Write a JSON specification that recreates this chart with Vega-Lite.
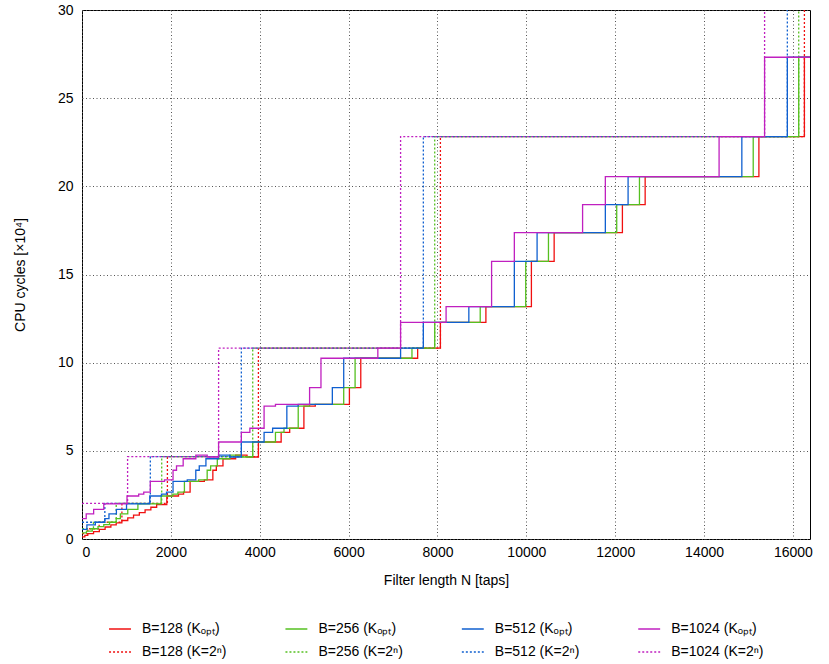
{
  "$schema": "https://vega.github.io/schema/vega-lite/v6.json",
  "width": 728,
  "height": 529,
  "autosize": {"type": "none"},
  "padding": {"left": 82, "top": 10, "right": 19, "bottom": 125},
  "background": "white",
  "data": {"values": [
    {"series": "B=128 (Kₒₚₜ)", "N": 1, "cycles": 0.12},
    {"series": "B=128 (Kₒₚₜ)", "N": 64, "cycles": 0.2},
    {"series": "B=128 (Kₒₚₜ)", "N": 130, "cycles": 0.3},
    {"series": "B=128 (Kₒₚₜ)", "N": 260, "cycles": 0.42},
    {"series": "B=128 (Kₒₚₜ)", "N": 390, "cycles": 0.55},
    {"series": "B=128 (Kₒₚₜ)", "N": 520, "cycles": 0.68},
    {"series": "B=128 (Kₒₚₜ)", "N": 650, "cycles": 0.8},
    {"series": "B=128 (Kₒₚₜ)", "N": 770, "cycles": 0.92},
    {"series": "B=128 (Kₒₚₜ)", "N": 897, "cycles": 1.05},
    {"series": "B=128 (Kₒₚₜ)", "N": 1030, "cycles": 1.2},
    {"series": "B=128 (Kₒₚₜ)", "N": 1160, "cycles": 1.35},
    {"series": "B=128 (Kₒₚₜ)", "N": 1290, "cycles": 1.5},
    {"series": "B=128 (Kₒₚₜ)", "N": 1420, "cycles": 1.65},
    {"series": "B=128 (Kₒₚₜ)", "N": 1550, "cycles": 1.8},
    {"series": "B=128 (Kₒₚₜ)", "N": 1680, "cycles": 1.95},
    {"series": "B=128 (Kₒₚₜ)", "N": 1909, "cycles": 2.44},
    {"series": "B=128 (Kₒₚₜ)", "N": 2172, "cycles": 2.55},
    {"series": "B=128 (Kₒₚₜ)", "N": 2286, "cycles": 2.66},
    {"series": "B=128 (Kₒₚₜ)", "N": 2433, "cycles": 3.27},
    {"series": "B=128 (Kₒₚₜ)", "N": 2753, "cycles": 3.35},
    {"series": "B=128 (Kₒₚₜ)", "N": 2945, "cycles": 3.9},
    {"series": "B=128 (Kₒₚₜ)", "N": 3023, "cycles": 4.15},
    {"series": "B=128 (Kₒₚₜ)", "N": 3173, "cycles": 4.55},
    {"series": "B=128 (Kₒₚₜ)", "N": 3458, "cycles": 4.76},
    {"series": "B=128 (Kₒₚₜ)", "N": 3714, "cycles": 4.65},
    {"series": "B=128 (Kₒₚₜ)", "N": 3970, "cycles": 5.5},
    {"series": "B=128 (Kₒₚₜ)", "N": 4482, "cycles": 6.05},
    {"series": "B=128 (Kₒₚₜ)", "N": 4674, "cycles": 6.28},
    {"series": "B=128 (Kₒₚₜ)", "N": 4994, "cycles": 7.54},
    {"series": "B=128 (Kₒₚₜ)", "N": 5250, "cycles": 7.64},
    {"series": "B=128 (Kₒₚₜ)", "N": 6018, "cycles": 8.58},
    {"series": "B=128 (Kₒₚₜ)", "N": 6274, "cycles": 10.25},
    {"series": "B=128 (Kₒₚₜ)", "N": 7554, "cycles": 10.83},
    {"series": "B=128 (Kₒₚₜ)", "N": 8066, "cycles": 12.29},
    {"series": "B=128 (Kₒₚₜ)", "N": 9090, "cycles": 13.18},
    {"series": "B=128 (Kₒₚₜ)", "N": 10114, "cycles": 15.75},
    {"series": "B=128 (Kₒₚₜ)", "N": 10626, "cycles": 17.37},
    {"series": "B=128 (Kₒₚₜ)", "N": 12162, "cycles": 18.96},
    {"series": "B=128 (Kₒₚₜ)", "N": 12674, "cycles": 20.55},
    {"series": "B=128 (Kₒₚₜ)", "N": 15234, "cycles": 22.82},
    {"series": "B=128 (Kₒₚₜ)", "N": 16258, "cycles": 27.32},
    {"series": "B=128 (Kₒₚₜ)", "N": 16384, "cycles": 27.32},

    {"series": "B=128 (K=2ⁿ)", "N": 1, "cycles": 0.3},
    {"series": "B=128 (K=2ⁿ)", "N": 130, "cycles": 0.58},
    {"series": "B=128 (K=2ⁿ)", "N": 386, "cycles": 0.95},
    {"series": "B=128 (K=2ⁿ)", "N": 898, "cycles": 2.02},
    {"series": "B=128 (K=2ⁿ)", "N": 1922, "cycles": 4.67},
    {"series": "B=128 (K=2ⁿ)", "N": 3970, "cycles": 10.83},
    {"series": "B=128 (K=2ⁿ)", "N": 8066, "cycles": 22.82},
    {"series": "B=128 (K=2ⁿ)", "N": 16258, "cycles": 50},
    {"series": "B=128 (K=2ⁿ)", "N": 16384, "cycles": 50},

    {"series": "B=256 (Kₒₚₜ)", "N": 1, "cycles": 0.35},
    {"series": "B=256 (Kₒₚₜ)", "N": 100, "cycles": 0.45},
    {"series": "B=256 (Kₒₚₜ)", "N": 230, "cycles": 0.58},
    {"series": "B=256 (Kₒₚₜ)", "N": 360, "cycles": 0.7},
    {"series": "B=256 (Kₒₚₜ)", "N": 490, "cycles": 0.82},
    {"series": "B=256 (Kₒₚₜ)", "N": 620, "cycles": 0.95},
    {"series": "B=256 (Kₒₚₜ)", "N": 769, "cycles": 1.15},
    {"series": "B=256 (Kₒₚₜ)", "N": 863, "cycles": 1.42},
    {"series": "B=256 (Kₒₚₜ)", "N": 1030, "cycles": 1.68},
    {"series": "B=256 (Kₒₚₜ)", "N": 1258, "cycles": 1.99},
    {"series": "B=256 (Kₒₚₜ)", "N": 1781, "cycles": 2.44},
    {"series": "B=256 (Kₒₚₜ)", "N": 2044, "cycles": 2.55},
    {"series": "B=256 (Kₒₚₜ)", "N": 2158, "cycles": 2.66},
    {"series": "B=256 (Kₒₚₜ)", "N": 2305, "cycles": 3.27},
    {"series": "B=256 (Kₒₚₜ)", "N": 2625, "cycles": 3.35},
    {"series": "B=256 (Kₒₚₜ)", "N": 2817, "cycles": 3.9},
    {"series": "B=256 (Kₒₚₜ)", "N": 2895, "cycles": 4.15},
    {"series": "B=256 (Kₒₚₜ)", "N": 3045, "cycles": 4.55},
    {"series": "B=256 (Kₒₚₜ)", "N": 3330, "cycles": 4.76},
    {"series": "B=256 (Kₒₚₜ)", "N": 3586, "cycles": 4.65},
    {"series": "B=256 (Kₒₚₜ)", "N": 3842, "cycles": 5.5},
    {"series": "B=256 (Kₒₚₜ)", "N": 4354, "cycles": 6.05},
    {"series": "B=256 (Kₒₚₜ)", "N": 4546, "cycles": 6.28},
    {"series": "B=256 (Kₒₚₜ)", "N": 4866, "cycles": 7.54},
    {"series": "B=256 (Kₒₚₜ)", "N": 5122, "cycles": 7.64},
    {"series": "B=256 (Kₒₚₜ)", "N": 5890, "cycles": 8.58},
    {"series": "B=256 (Kₒₚₜ)", "N": 6146, "cycles": 10.25},
    {"series": "B=256 (Kₒₚₜ)", "N": 7426, "cycles": 10.83},
    {"series": "B=256 (Kₒₚₜ)", "N": 7938, "cycles": 12.29},
    {"series": "B=256 (Kₒₚₜ)", "N": 8962, "cycles": 13.18},
    {"series": "B=256 (Kₒₚₜ)", "N": 9986, "cycles": 15.75},
    {"series": "B=256 (Kₒₚₜ)", "N": 10498, "cycles": 17.37},
    {"series": "B=256 (Kₒₚₜ)", "N": 12034, "cycles": 18.96},
    {"series": "B=256 (Kₒₚₜ)", "N": 12546, "cycles": 20.55},
    {"series": "B=256 (Kₒₚₜ)", "N": 15106, "cycles": 22.82},
    {"series": "B=256 (Kₒₚₜ)", "N": 16130, "cycles": 27.32},
    {"series": "B=256 (Kₒₚₜ)", "N": 16384, "cycles": 27.32},

    {"series": "B=256 (K=2ⁿ)", "N": 1, "cycles": 0.58},
    {"series": "B=256 (K=2ⁿ)", "N": 258, "cycles": 0.95},
    {"series": "B=256 (K=2ⁿ)", "N": 770, "cycles": 2.02},
    {"series": "B=256 (K=2ⁿ)", "N": 1794, "cycles": 4.67},
    {"series": "B=256 (K=2ⁿ)", "N": 3842, "cycles": 10.83},
    {"series": "B=256 (K=2ⁿ)", "N": 7938, "cycles": 22.82},
    {"series": "B=256 (K=2ⁿ)", "N": 16130, "cycles": 50},
    {"series": "B=256 (K=2ⁿ)", "N": 16384, "cycles": 50},

    {"series": "B=512 (Kₒₚₜ)", "N": 1, "cycles": 0.55},
    {"series": "B=512 (Kₒₚₜ)", "N": 110, "cycles": 0.8},
    {"series": "B=512 (Kₒₚₜ)", "N": 300, "cycles": 0.95},
    {"series": "B=512 (Kₒₚₜ)", "N": 513, "cycles": 1.15},
    {"series": "B=512 (Kₒₚₜ)", "N": 607, "cycles": 1.42},
    {"series": "B=512 (Kₒₚₜ)", "N": 774, "cycles": 1.68},
    {"series": "B=512 (Kₒₚₜ)", "N": 1002, "cycles": 1.99},
    {"series": "B=512 (Kₒₚₜ)", "N": 1525, "cycles": 2.44},
    {"series": "B=512 (Kₒₚₜ)", "N": 1788, "cycles": 2.55},
    {"series": "B=512 (Kₒₚₜ)", "N": 1902, "cycles": 2.66},
    {"series": "B=512 (Kₒₚₜ)", "N": 2049, "cycles": 3.27},
    {"series": "B=512 (Kₒₚₜ)", "N": 2369, "cycles": 3.35},
    {"series": "B=512 (Kₒₚₜ)", "N": 2561, "cycles": 3.9},
    {"series": "B=512 (Kₒₚₜ)", "N": 2639, "cycles": 4.15},
    {"series": "B=512 (Kₒₚₜ)", "N": 2789, "cycles": 4.55},
    {"series": "B=512 (Kₒₚₜ)", "N": 3074, "cycles": 4.76},
    {"series": "B=512 (Kₒₚₜ)", "N": 3330, "cycles": 4.65},
    {"series": "B=512 (Kₒₚₜ)", "N": 3586, "cycles": 5.5},
    {"series": "B=512 (Kₒₚₜ)", "N": 4098, "cycles": 6.05},
    {"series": "B=512 (Kₒₚₜ)", "N": 4290, "cycles": 6.28},
    {"series": "B=512 (Kₒₚₜ)", "N": 4610, "cycles": 7.54},
    {"series": "B=512 (Kₒₚₜ)", "N": 4866, "cycles": 7.64},
    {"series": "B=512 (Kₒₚₜ)", "N": 5634, "cycles": 8.58},
    {"series": "B=512 (Kₒₚₜ)", "N": 5890, "cycles": 10.25},
    {"series": "B=512 (Kₒₚₜ)", "N": 7170, "cycles": 10.83},
    {"series": "B=512 (Kₒₚₜ)", "N": 7682, "cycles": 12.29},
    {"series": "B=512 (Kₒₚₜ)", "N": 8706, "cycles": 13.18},
    {"series": "B=512 (Kₒₚₜ)", "N": 9730, "cycles": 15.75},
    {"series": "B=512 (Kₒₚₜ)", "N": 10242, "cycles": 17.37},
    {"series": "B=512 (Kₒₚₜ)", "N": 11778, "cycles": 18.96},
    {"series": "B=512 (Kₒₚₜ)", "N": 12290, "cycles": 20.55},
    {"series": "B=512 (Kₒₚₜ)", "N": 14850, "cycles": 22.82},
    {"series": "B=512 (Kₒₚₜ)", "N": 15874, "cycles": 27.32},
    {"series": "B=512 (Kₒₚₜ)", "N": 16384, "cycles": 27.32},

    {"series": "B=512 (K=2ⁿ)", "N": 1, "cycles": 0.95},
    {"series": "B=512 (K=2ⁿ)", "N": 514, "cycles": 2.02},
    {"series": "B=512 (K=2ⁿ)", "N": 1538, "cycles": 4.67},
    {"series": "B=512 (K=2ⁿ)", "N": 3586, "cycles": 10.83},
    {"series": "B=512 (K=2ⁿ)", "N": 7682, "cycles": 22.82},
    {"series": "B=512 (K=2ⁿ)", "N": 15874, "cycles": 50},
    {"series": "B=512 (K=2ⁿ)", "N": 16384, "cycles": 50},

    {"series": "B=1024 (Kₒₚₜ)", "N": 1, "cycles": 1.15},
    {"series": "B=1024 (Kₒₚₜ)", "N": 95, "cycles": 1.42},
    {"series": "B=1024 (Kₒₚₜ)", "N": 262, "cycles": 1.68},
    {"series": "B=1024 (Kₒₚₜ)", "N": 490, "cycles": 1.99},
    {"series": "B=1024 (Kₒₚₜ)", "N": 1013, "cycles": 2.44},
    {"series": "B=1024 (Kₒₚₜ)", "N": 1276, "cycles": 2.55},
    {"series": "B=1024 (Kₒₚₜ)", "N": 1390, "cycles": 2.66},
    {"series": "B=1024 (Kₒₚₜ)", "N": 1537, "cycles": 3.27},
    {"series": "B=1024 (Kₒₚₜ)", "N": 1857, "cycles": 3.35},
    {"series": "B=1024 (Kₒₚₜ)", "N": 2049, "cycles": 3.9},
    {"series": "B=1024 (Kₒₚₜ)", "N": 2127, "cycles": 4.15},
    {"series": "B=1024 (Kₒₚₜ)", "N": 2277, "cycles": 4.55},
    {"series": "B=1024 (Kₒₚₜ)", "N": 2562, "cycles": 4.76},
    {"series": "B=1024 (Kₒₚₜ)", "N": 2818, "cycles": 4.65},
    {"series": "B=1024 (Kₒₚₜ)", "N": 3074, "cycles": 5.5},
    {"series": "B=1024 (Kₒₚₜ)", "N": 3586, "cycles": 6.05},
    {"series": "B=1024 (Kₒₚₜ)", "N": 3778, "cycles": 6.28},
    {"series": "B=1024 (Kₒₚₜ)", "N": 4098, "cycles": 7.54},
    {"series": "B=1024 (Kₒₚₜ)", "N": 4354, "cycles": 7.64},
    {"series": "B=1024 (Kₒₚₜ)", "N": 5122, "cycles": 8.58},
    {"series": "B=1024 (Kₒₚₜ)", "N": 5378, "cycles": 10.25},
    {"series": "B=1024 (Kₒₚₜ)", "N": 6658, "cycles": 10.83},
    {"series": "B=1024 (Kₒₚₜ)", "N": 7170, "cycles": 12.29},
    {"series": "B=1024 (Kₒₚₜ)", "N": 8194, "cycles": 13.18},
    {"series": "B=1024 (Kₒₚₜ)", "N": 9218, "cycles": 15.75},
    {"series": "B=1024 (Kₒₚₜ)", "N": 9730, "cycles": 17.37},
    {"series": "B=1024 (Kₒₚₜ)", "N": 11266, "cycles": 18.96},
    {"series": "B=1024 (Kₒₚₜ)", "N": 11778, "cycles": 20.55},
    {"series": "B=1024 (Kₒₚₜ)", "N": 14338, "cycles": 22.82},
    {"series": "B=1024 (Kₒₚₜ)", "N": 15362, "cycles": 27.32},
    {"series": "B=1024 (Kₒₚₜ)", "N": 16384, "cycles": 27.32},

    {"series": "B=1024 (K=2ⁿ)", "N": 1, "cycles": 2.02},
    {"series": "B=1024 (K=2ⁿ)", "N": 1026, "cycles": 4.67},
    {"series": "B=1024 (K=2ⁿ)", "N": 3074, "cycles": 10.83},
    {"series": "B=1024 (K=2ⁿ)", "N": 7170, "cycles": 22.82},
    {"series": "B=1024 (K=2ⁿ)", "N": 15362, "cycles": 50},
    {"series": "B=1024 (K=2ⁿ)", "N": 16384, "cycles": 50}
  ]},
  "mark": {"type": "line", "interpolate": "step-after", "clip": true, "strokeWidth": 1.3},
  "encoding": {
    "x": {
      "field": "N", "type": "quantitative",
      "scale": {"domain": [0, 16384], "nice": false, "zero": false},
      "axis": {"values": [0, 2000, 4000, 6000, 8000, 10000, 12000, 14000, 16000], "title": "Filter length N [taps]", "format": "d", "labelPadding": 6, "titlePadding": 14}
    },
    "y": {
      "field": "cycles", "type": "quantitative",
      "scale": {"domain": [0, 30], "nice": false},
      "axis": {"values": [0, 5, 10, 15, 20, 25, 30], "title": "CPU cycles [×10⁴]", "labelPadding": 9, "titlePadding": 30}
    },
    "color": {
      "field": "series", "type": "nominal",
      "scale": {
        "domain": ["B=128 (Kₒₚₜ)", "B=256 (Kₒₚₜ)", "B=512 (Kₒₚₜ)", "B=1024 (Kₒₚₜ)", "B=128 (K=2ⁿ)", "B=256 (K=2ⁿ)", "B=512 (K=2ⁿ)", "B=1024 (K=2ⁿ)"],
        "range": ["#f01010", "#55c020", "#1060d0", "#c020c0", "#f01010", "#55c020", "#1060d0", "#c020c0"]
      },
      "legend": {"title": null}
    },
    "strokeDash": {
      "field": "series", "type": "nominal",
      "scale": {
        "domain": ["B=128 (Kₒₚₜ)", "B=256 (Kₒₚₜ)", "B=512 (Kₒₚₜ)", "B=1024 (Kₒₚₜ)", "B=128 (K=2ⁿ)", "B=256 (K=2ⁿ)", "B=512 (K=2ⁿ)", "B=1024 (K=2ⁿ)"],
        "range": [[1, 0], [1, 0], [1, 0], [1, 0], [2, 2], [2, 2], [2, 2], [2, 2]]
      },
      "legend": {"title": null}
    }
  },
  "config": {
    "font": "Liberation Sans",
    "view": {"stroke": "black", "strokeWidth": 1},
    "axis": {
      "domain": false,
      "ticks": false,
      "grid": true,
      "gridColor": "#555555",
      "gridDash": [1, 2.5],
      "gridWidth": 1,
      "gridOpacity": 1,
      "labelFont": "Liberation Sans",
      "labelFontSize": 14,
      "labelColor": "black",
      "titleFont": "Liberation Sans",
      "titleFontSize": 14,
      "titleFontWeight": "normal",
      "titleColor": "black"
    },
    "legend": {
      "orient": "none",
      "legendX": 26,
      "legendY": 607,
      "columns": 4,
      "direction": "horizontal",
      "gridAlign": "all",
      "columnPadding": 47.4,
      "rowPadding": 4,
      "padding": 0,
      "symbolType": "stroke",
      "symbolSize": 480,
      "symbolStrokeWidth": 1.5,
      "labelFont": "Liberation Sans",
      "labelFontSize": 14,
      "labelColor": "black",
      "labelOffset": 10,
      "labelLimit": 200
    }
  }
}
